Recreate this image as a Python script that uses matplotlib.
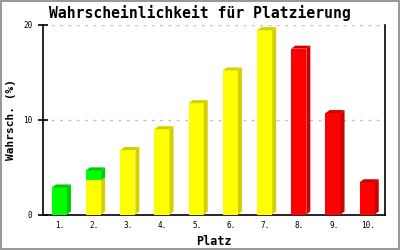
import matplotlib
matplotlib.use("Agg")
import matplotlib.pyplot as plt
from matplotlib.patches import Polygon
import numpy as np

# data
places = ['1.', '2.', '3.', '4.', '5.', '6.', '7.', '8.', '9.', '10.']
yellow_vals = [0, 3.6, 6.8, 9.0, 11.75, 15.2, 19.45, 0, 0, 0]
red_vals = [0, 0, 0, 0, 0, 0, 0, 17.5, 10.7, 3.4]
green_vals = [2.85, 1.05, 0, 0, 0, 0, 0, 0, 0, 0]

colors = {'yellow': ('#ffff00', '#d4d000'),
          'red': ('#ff0000', '#cc0000'),
          'green': ('#00ff00', '#00cc00')}

plt.rcParams['font.family'] = ['DejaVu Sans Mono']

fig = plt.figure(figsize=(4, 2.5), dpi=100)
fig.patch.set_edgecolor('#999999')
fig.patch.set_linewidth(1.5)
ax = fig.add_axes([0.1075, 0.142, 0.855, 0.758])

x = np.arange(1, len(places) + 1)
width = 0.44
xoff = -0.02
dx = 0.117   # depth in x (about 4px)
dy = 0.32    # depth in y (about 3px)

bottom = np.zeros(len(places))
segments = [('yellow', yellow_vals), ('red', red_vals), ('green', green_vals)]
tops = {}
for name, vals in segments:
    face, dark = colors[name]
    vals = np.array(vals, dtype=float)
    for i in range(len(places)):
        if vals[i] <= 0:
            continue
        left = x[i] + xoff - width / 2
        right = left + width
        b = bottom[i]
        t = b + vals[i]
        ax.bar(left, vals[i], width=width, bottom=b, align='edge',
               color=face, linewidth=0, zorder=3)
        ax.add_patch(Polygon([(right, b), (right + dx, b + dy),
                              (right + dx, t + dy), (right, t)],
                             closed=True, facecolor=dark, edgecolor='none', zorder=3))
        tops[i] = (left, right, t, dark)
    bottom = bottom + vals

for i, (left, right, t, dark) in tops.items():
    ax.add_patch(Polygon([(left, t), (left + dx, t + dy),
                          (right + dx, t + dy), (right, t)],
                         closed=True, facecolor=dark, edgecolor='none', zorder=3))

ax.set_xlim(0.5, 10.5)
ax.set_ylim(0, 20)
ax.set_xticks(x)
ax.set_xticklabels(places, fontsize=5.5)
ax.set_yticks([0, 10, 20])
ax.set_yticklabels(['0', '10', '20'], fontsize=5.5)
ax.tick_params(axis='x', length=0, pad=5)
ax.tick_params(axis='y', direction='inout', length=7, width=1.2, pad=4)
ax.yaxis.grid(True, linestyle=(0, (2, 4)), color='#c0c0c0', linewidth=1, zorder=0)
ax.set_axisbelow(True)

ax.spines['top'].set_visible(False)
for s in ['left', 'right', 'bottom']:
    ax.spines[s].set_linewidth(1.2)
    ax.spines[s].set_color('black')

fig.text(0.5, 0.948, 'Wahrscheinlichkeit für Platzierung', fontsize=10.6,
         fontweight='bold', ha='center', va='center')
ax.set_xlabel('Platz', fontsize=8.5, fontweight='bold', labelpad=3)
ax.set_ylabel('Wahrsch. (%)', fontsize=8, fontweight='bold', labelpad=5)

fig.savefig('out.png', dpi=100, edgecolor=fig.get_edgecolor())
